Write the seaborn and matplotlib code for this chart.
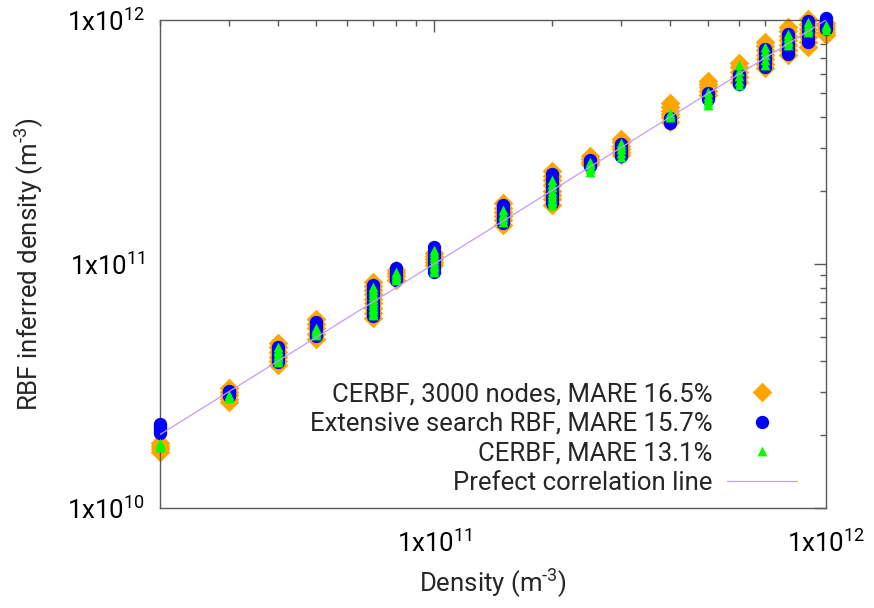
import numpy as np
import pandas as pd
import matplotlib
matplotlib.use('Agg')
import matplotlib.pyplot as plt
import seaborn as sns
from matplotlib.ticker import FuncFormatter, NullFormatter, LogLocator

UNIT = 1e10  # values below are given in units of 1e10 m^-3

density = [2, 3, 4, 5, 7, 8, 10, 15, 20, 25, 30, 40, 50, 60, 70, 80, 90, 100]

cerbf_3000 = [
    [1.85, 1.80, 1.75, 1.70],
    [3.10, 3.00, 2.90, 2.80, 2.72],
    [4.74, 4.55, 4.35, 4.15, 4.00, 3.86],
    [5.95, 5.70, 5.45, 5.15, 4.93],
    [8.44, 8.10, 7.80, 7.50, 7.20, 6.90, 6.60, 6.30, 6.01],
    [9.44, 9.20, 8.90, 8.59],
    [11.1, 10.8, 10.5, 10.2, 9.9],
    [17.8, 17.0, 16.3, 15.7, 15.1, 14.5],
    [24.1, 23.0, 22.0, 21.0, 20.0, 19.2, 18.5, 17.5],
    [27.7, 27.0, 26.3, 25.7],
    [32.5, 31.5, 30.5, 29.5, 28.8, 28.0],
    [45.7, 44.0, 42.5, 41.0, 40.0, 38.2],
    [56.2, 54.5, 53.0, 51.0, 49.3],
    [66.7, 64.0, 61.0, 58.5, 55.7],
    [81.3, 78.0, 75.0, 72.0, 69.0, 66.0, 63.5],
    [93.6, 90.0, 86.0, 82.5, 79.0, 75.5, 71.9],
    [101.0, 96.0, 92.0, 88.5, 85.0, 81.0, 77.4],
    [97.2, 94.5, 92.0, 89.5, 86.8],
]

extensive_rbf = [
    [2.20, 2.16, 2.12, 2.07, 2.02],
    [3.02, 2.98, 2.95, 2.91, 2.88],
    [4.59, 4.45, 4.30, 4.20, 4.10, 3.98],
    [5.76, 5.55, 5.40, 5.25, 5.09],
    [8.24, 7.90, 7.60, 7.30, 7.00, 6.75, 6.50, 6.30, 6.15],
    [9.59, 9.30, 9.00, 8.75, 8.56],
    [11.7, 11.3, 11.0, 10.6, 10.2, 9.9, 9.6, 9.23],
    [17.5, 16.9, 16.4, 15.9, 15.5, 15.1, 14.7],
    [23.3, 22.4, 21.5, 20.6, 19.8, 19.1, 18.5, 17.7],
    [26.8, 26.3, 25.9, 25.5, 25.1],
    [30.9, 30.0, 29.2, 28.4, 27.6],
    [39.6, 38.7, 37.8],
    [50.2, 48.8, 47.4],
    [60.1, 58.5, 57.0, 55.8, 54.7],
    [76.0, 73.0, 70.0, 67.0, 64.1],
    [87.7, 84.0, 80.0, 76.0, 72.6],
    [99.0, 94.5, 90.0, 85.5, 81.3],
    [102.0, 99.0, 96.0, 94.0, 91.8],
]

cerbf = [
    [1.85, 1.82, 1.80, 1.77],
    [2.90, 2.86, 2.83],
    [4.57, 4.45, 4.35, 4.25, 4.15, 4.05, 3.97],
    [5.47, 5.38, 5.30, 5.20, 5.12],
    [8.05, 7.80, 7.60, 7.40, 7.20, 7.00, 6.80, 6.60, 6.45, 6.30, 6.18],
    [9.27, 9.10, 8.90, 8.75, 8.59],
    [11.4, 11.1, 10.8, 10.5, 10.2, 9.9, 9.7, 9.45, 9.27],
    [16.6, 16.1, 15.7, 15.3, 14.9],
    [22.1, 21.3, 20.6, 19.9, 19.3, 18.8, 18.3, 17.9, 17.5],
    [26.2, 25.6, 25.0, 24.4, 23.8],
    [31.3, 30.4, 29.5, 28.5, 27.5],
    [41.6, 40.8, 40.0],
    [50.7, 49.0, 47.5, 46.2, 44.9],
    [65.5, 62.0, 59.0, 56.5, 54.2],
    [77.4, 74.5, 72.0, 68.5, 65.5],
    [87.7, 85.3, 83.0, 81.0, 79.0],
    [98.0, 95.5, 93.0, 91.0, 89.3],
    [95.5, 93.2, 91.0],
]

line_x = [2, 100]
line_y = [2, 100]

series_labels = [
    "CERBF, 3000 nodes, MARE 16.5%",
    "Extensive search RBF, MARE 15.7%",
    "CERBF, MARE 13.1%",
    "Prefect correlation line",
]


def to_frame(vals):
    rows = []
    for d, ys in zip(density, vals):
        for y in ys:
            rows.append((d * UNIT, y * UNIT))
    return pd.DataFrame(rows, columns=["density", "inferred"])


df_o = to_frame(cerbf_3000)
df_b = to_frame(extensive_rbf)
df_g = to_frame(cerbf)
df_line = pd.DataFrame({"density": np.array(line_x) * UNIT,
                        "inferred": np.array(line_y) * UNIT})

sns.set_theme(style="white")
plt.rcParams["font.family"] = ["Roboto", "DejaVu Sans"]
plt.rcParams["mathtext.fontset"] = "custom"
plt.rcParams["mathtext.rm"] = "Roboto"
plt.rcParams["mathtext.it"] = "Roboto:italic"
plt.rcParams["mathtext.default"] = "regular"

FS = 18.5
fig = plt.figure(figsize=(8.74, 6.08), dpi=100)
ax = fig.add_axes([160 / 874, 100 / 608, 666 / 874, 488 / 608])
ax.set_xscale("log")
ax.set_yscale("log")

sns.scatterplot(data=df_o, x="density", y="inferred", marker="D", s=100,
                color="#FFA500", linewidth=0, ax=ax, zorder=2, clip_on=False,
                label=series_labels[0])
sns.scatterplot(data=df_b, x="density", y="inferred", marker="o", s=92,
                color="#0000FF", linewidth=0, ax=ax, zorder=3, clip_on=False,
                label=series_labels[1])
sns.scatterplot(data=df_g, x="density", y="inferred", marker="^", s=50,
                color="#00FF00", linewidth=0, ax=ax, zorder=4, clip_on=False,
                label=series_labels[2])
sns.lineplot(data=df_line, x="density", y="inferred", color="#c39bff",
             linewidth=0.9, ax=ax, zorder=5, label=series_labels[3])

ax.set_xlim(2e10, 1e12)
ax.set_ylim(1e10, 1e12)

fmt = FuncFormatter(lambda v, p: r"1x10$^{%d}$" % int(round(np.log10(v))))
for axis in (ax.xaxis, ax.yaxis):
    axis.set_major_locator(LogLocator(base=10))
    axis.set_minor_locator(LogLocator(base=10, subs=np.arange(2, 10)))
    axis.set_major_formatter(fmt)
    axis.set_minor_formatter(NullFormatter())

spine_c = "#5a5a5a"
for s in ax.spines.values():
    s.set_color(spine_c)
    s.set_linewidth(1.0)
ax.tick_params(which="both", direction="in", top=True, right=True,
               color=spine_c, width=1.0, labelsize=FS, labelcolor="black")
ax.tick_params(which="major", length=8.6)
ax.tick_params(axis="y", which="major", pad=11)
ax.tick_params(axis="x", which="major", pad=16)
ax.tick_params(which="minor", length=4.3)

ax.set_xlabel(r"Density (m$^{\text{-3}}$)", fontsize=FS)
ax.set_ylabel(r"RBF inferred density (m$^{\text{-3}}$)", fontsize=FS)
ax.xaxis.set_label_coords(0.5, (508 - 567) / 488)
ax.yaxis.set_label_coords((46 - 160) / 666, 0.5)

handles, labels = ax.get_legend_handles_labels()
leg = ax.legend(handles, labels, loc="lower right",
                bbox_to_anchor=(797 / 874, (608 - 495) / 608),
                bbox_transform=fig.transFigure, frameon=False,
                markerfirst=False, fontsize=FS, handlelength=2.72,
                handletextpad=0.58, labelspacing=0.22, borderpad=0,
                borderaxespad=0, scatterpoints=1, scatteryoffsets=[0.5])
for col in leg._legend_box.get_children()[1].get_children():
    col.align = "right"

fig.savefig("out.png", dpi=100, facecolor="white")
